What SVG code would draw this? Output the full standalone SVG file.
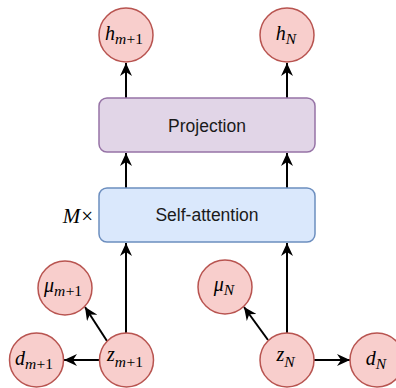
<svg xmlns="http://www.w3.org/2000/svg" width="396" height="388" viewBox="0 0 396 388">
<style>
.c{fill:#f8cecc;stroke:#b85450;stroke-width:1.5}
.box{stroke-width:1.5}
.lbl{font-family:"Liberation Sans",Arial,sans-serif;font-size:17.5px;fill:#1a1a1a;text-anchor:middle}
.m{font-family:"Liberation Serif","DejaVu Serif",serif;font-size:20px;fill:#000;text-anchor:middle}
.i{font-style:italic}
text.m tspan.s{font-size:15.5px}
.e{stroke:#000;stroke-width:2;fill:none;marker-end:url(#ah)}
</style>
<defs>
<marker id="ah" markerUnits="userSpaceOnUse" viewBox="0 0 13 12" refX="13" refY="6" markerWidth="13" markerHeight="12" orient="auto">
<path d="M0,0 L13,6 L0,12 L4,6 Z" fill="#000"/>
</marker>
</defs>
<rect width="396" height="388" fill="#fff"/>
<g id="connectors">
<line class="e" x1="126" y1="98" x2="126" y2="63"/>
<line class="e" x1="287" y1="98" x2="287" y2="63"/>
<line class="e" x1="126" y1="188" x2="126" y2="153"/>
<line class="e" x1="287" y1="188" x2="287" y2="153"/>
<line class="e" x1="126" y1="333" x2="126" y2="243"/>
<line class="e" x1="287" y1="333" x2="287" y2="243"/>
<line class="e" x1="107" y1="341" x2="85" y2="307"/>
<line class="e" x1="268" y1="340" x2="244" y2="307"/>
<line class="e" x1="99" y1="360" x2="64" y2="360"/>
<line class="e" x1="314" y1="360" x2="350" y2="360"/>
</g>
<g id="projection">
<rect class="box" x="99" y="98" width="216" height="54" rx="8" fill="#e1d5e7" stroke="#9673a6"/>
<text class="lbl" x="207" y="131.5">Projection</text>
</g>
<g id="self-attention">
<rect class="box" x="99" y="188" width="216" height="54" rx="8" fill="#dae8fc" stroke="#6c8ebf"/>
<text class="lbl" x="207" y="221">Self-attention</text>
</g>
<g id="m-times">
<text class="m" x="93" y="222.5" style="text-anchor:end;font-size:21px"><tspan class="i">M</tspan><tspan dx="1">×</tspan></text>
</g>
<g id="h-m1">
<circle class="c" cx="126" cy="35" r="27"/>
<text class="m" x="124" y="40"><tspan class="i">h</tspan><tspan class="s i" dy="3.5">m</tspan><tspan class="s" dx="0.5">+1</tspan></text>
</g>
<g id="h-N">
<circle class="c" cx="287" cy="35" r="27"/>
<text class="m" x="286" y="40"><tspan class="i">h</tspan><tspan class="s i" dy="3.5">N</tspan></text>
</g>
<g id="mu-m1">
<circle class="c" cx="65" cy="288" r="27"/>
<text class="m" x="63" y="292"><tspan class="i">μ</tspan><tspan class="s i" dy="3.5">m</tspan><tspan class="s" dx="0.5">+1</tspan></text>
</g>
<g id="mu-N">
<circle class="c" cx="225" cy="287" r="27"/>
<text class="m" x="224" y="291"><tspan class="i">μ</tspan><tspan class="s i" dy="3.5">N</tspan></text>
</g>
<g id="d-m1">
<circle class="c" cx="36.5" cy="360" r="27"/>
<text class="m" x="34" y="365"><tspan class="i">d</tspan><tspan class="s i" dy="3.5">m</tspan><tspan class="s" dx="0.5">+1</tspan></text>
</g>
<g id="z-m1">
<circle class="c" cx="126.5" cy="360" r="27"/>
<text class="m" x="125" y="361"><tspan class="i">z</tspan><tspan class="s i" dy="5.5">m</tspan><tspan class="s" dx="0.5">+1</tspan></text>
</g>
<g id="z-N">
<circle class="c" cx="287" cy="360" r="27"/>
<text class="m" x="285.5" y="361"><tspan class="i">z</tspan><tspan class="s i" dy="5.5">N</tspan></text>
</g>
<g id="d-N">
<circle class="c" cx="377" cy="360" r="27"/>
<text class="m" x="376" y="365"><tspan class="i">d</tspan><tspan class="s i" dy="3.5">N</tspan></text>
</g>
</svg>
